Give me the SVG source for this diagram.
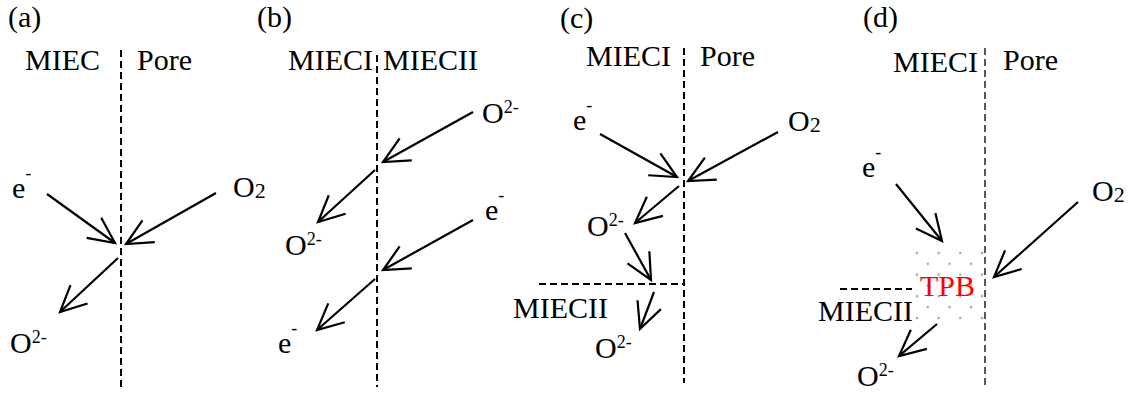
<svg xmlns="http://www.w3.org/2000/svg" width="1129" height="394" viewBox="0 0 1129 394">
  <style>
    text { font-family: "Liberation Serif", "Times New Roman", serif; font-size: 30px; fill: #000; }
    .sup { font-size: 18px; }
    .sub { font-size: 22px; }
    .tpb { fill: #ff0000; }
    .boundary { stroke: #000; stroke-width: 2; stroke-dasharray: 7 4; fill: none; }
    .boundary-thin { stroke: #222; stroke-width: 1.5; stroke-dasharray: 7 4; fill: none; }
    .flow { stroke: #000; stroke-width: 2.2; fill: none; marker-end: url(#head); }
  </style>
  <defs>
    <marker id="head" markerUnits="userSpaceOnUse" markerWidth="40" markerHeight="40" viewBox="-30 -20 40 40" refX="0" refY="0" orient="auto" overflow="visible">
      <path d="M-26,-12.5 L0,0 L-26,12.5" fill="none" stroke="#000" stroke-width="2.2" stroke-linejoin="miter"/>
    </marker>
    <pattern id="tpb-dots" patternUnits="userSpaceOnUse" x="912" y="248" width="21.67" height="21.67">
      <circle cx="5" cy="5" r="1.3" fill="#a8a8a8"/>
      <circle cx="15.83" cy="15.83" r="1.3" fill="#a8a8a8"/>
    </pattern>
  </defs>

  <!-- (a) MIEC / pore -->
  <g id="panel-a">
    <g id="a-boundaries">
      <line class="boundary" x1="121" y1="50" x2="121" y2="387"/>
    </g>
    <g id="a-title"><text x="8" y="27">(a)</text></g>
    <g id="a-miec"><text x="25" y="70">MIEC</text></g>
    <g id="a-pore"><text x="137" y="70">Pore</text></g>
    <g id="a-electron"><text x="12" y="198">e<tspan class="sup" dy="-19">-</tspan></text></g>
    <g id="a-oxygen"><text x="233" y="197">O<tspan class="sub" dy="1">2</tspan></text></g>
    <g id="a-oxide"><text x="10" y="353">O<tspan class="sup" dy="-10">2-</tspan></text></g>
    <g id="a-connectors">
      <line class="flow" x1="47" y1="194" x2="115" y2="243"/>
      <line class="flow" x1="216" y1="193" x2="126" y2="244"/>
      <line class="flow" x1="118" y1="258" x2="60" y2="312"/>
    </g>
  </g>

  <!-- (b) MIEC I / MIEC II -->
  <g id="panel-b">
    <g id="b-boundaries">
      <line class="boundary" x1="377" y1="55" x2="377" y2="387"/>
    </g>
    <g id="b-title"><text x="257" y="27">(b)</text></g>
    <g id="b-miec1"><text x="288" y="70">MIECI</text></g>
    <g id="b-miec2"><text x="383" y="70">MIECII</text></g>
    <g id="b-oxide-in"><text x="482" y="123">O<tspan class="sup" dy="-10">2-</tspan></text></g>
    <g id="b-oxide-out"><text x="285" y="255">O<tspan class="sup" dy="-10">2-</tspan></text></g>
    <g id="b-electron-in"><text x="485" y="220">e<tspan class="sup" dy="-19">-</tspan></text></g>
    <g id="b-electron-out"><text x="278" y="353">e<tspan class="sup" dy="-19">-</tspan></text></g>
    <g id="b-connectors">
      <line class="flow" x1="473" y1="112" x2="383" y2="162"/>
      <line class="flow" x1="375" y1="170" x2="318" y2="222"/>
      <line class="flow" x1="473" y1="220" x2="383" y2="270"/>
      <line class="flow" x1="375" y1="279" x2="317" y2="330"/>
    </g>
  </g>

  <!-- (c) MIEC I / pore with MIEC II below -->
  <g id="panel-c">
    <g id="c-boundaries">
      <line class="boundary" x1="684" y1="48" x2="684" y2="383"/>
      <line class="boundary" x1="539" y1="284" x2="684" y2="284"/>
    </g>
    <g id="c-title"><text x="560" y="28">(c)</text></g>
    <g id="c-miec1"><text x="586" y="66">MIECI</text></g>
    <g id="c-pore"><text x="700" y="66">Pore</text></g>
    <g id="c-electron"><text x="573" y="130">e<tspan class="sup" dy="-19">-</tspan></text></g>
    <g id="c-oxygen"><text x="788" y="131">O<tspan class="sub" dy="1">2</tspan></text></g>
    <g id="c-oxide-mid"><text x="587" y="236">O<tspan class="sup" dy="-10">2-</tspan></text></g>
    <g id="c-miec2"><text x="513" y="318">MIECII</text></g>
    <g id="c-oxide-out"><text x="595" y="358">O<tspan class="sup" dy="-10">2-</tspan></text></g>
    <g id="c-connectors">
      <line class="flow" x1="600" y1="134" x2="677" y2="177"/>
      <line class="flow" x1="778" y1="132" x2="688" y2="181"/>
      <line class="flow" x1="679" y1="186" x2="635" y2="223"/>
      <line class="flow" x1="625" y1="233" x2="651" y2="280"/>
      <line class="flow" x1="654" y1="292" x2="640" y2="329"/>
    </g>
  </g>

  <!-- (d) triple phase boundary -->
  <g id="panel-d">
    <g id="d-boundaries">
      <line class="boundary-thin" x1="985" y1="48" x2="985" y2="388"/>
      <line class="boundary" x1="840" y1="289" x2="912" y2="289"/>
    </g>
    <g id="d-tpb">
      <rect x="914" y="250" width="71" height="71" fill="url(#tpb-dots)"/>
      <text class="tpb" x="920" y="296">TPB</text>
    </g>
    <g id="d-title"><text x="863" y="27">(d)</text></g>
    <g id="d-miec1"><text x="893" y="72">MIECI</text></g>
    <g id="d-pore"><text x="1003" y="70">Pore</text></g>
    <g id="d-electron"><text x="862" y="177">e<tspan class="sup" dy="-19">-</tspan></text></g>
    <g id="d-oxygen"><text x="1092" y="201">O<tspan class="sub" dy="1">2</tspan></text></g>
    <g id="d-miec2"><text x="818" y="321">MIECII</text></g>
    <g id="d-oxide"><text x="857" y="386">O<tspan class="sup" dy="-10">2-</tspan></text></g>
    <g id="d-connectors">
      <line class="flow" x1="896" y1="184" x2="942" y2="241"/>
      <line class="flow" x1="1078" y1="202" x2="994" y2="277"/>
      <line class="flow" x1="937" y1="324" x2="899" y2="356"/>
    </g>
  </g>
</svg>
